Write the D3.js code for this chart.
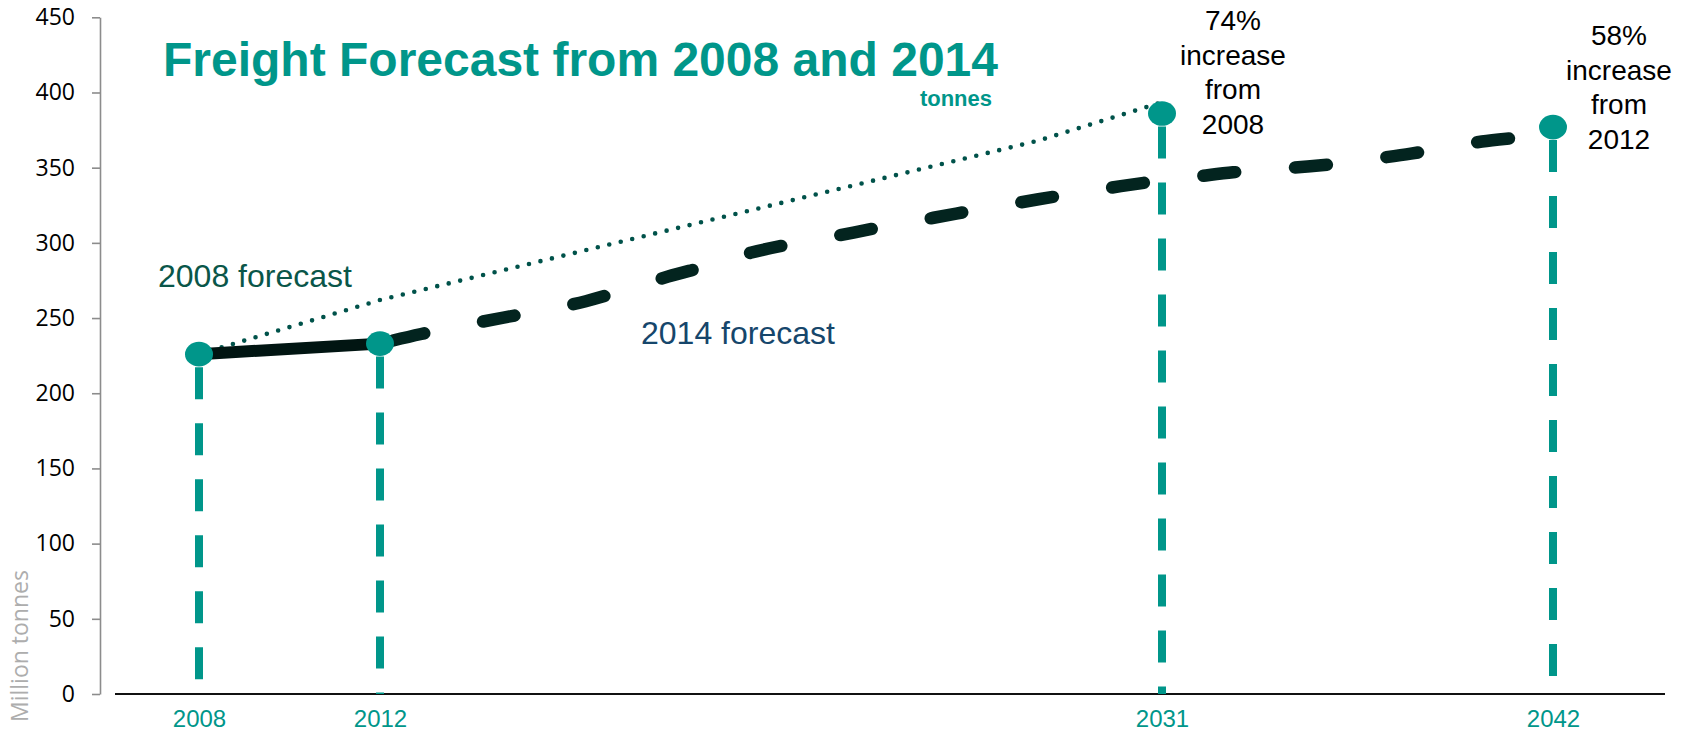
<!DOCTYPE html>
<html><head><meta charset="utf-8">
<script src="https://cdn.jsdelivr.net/npm/d3@7/dist/d3.min.js"></script>
<style>html,body{margin:0;padding:0;background:#fff;overflow:hidden}</style>
</head><body>
<svg id="chart" width="1690" height="732"></svg>
<script>
// ---- data ----
const markerYears = [2008, 2012, 2031, 2042];
const markerValues = [226, 233, 386, 377];
const xTickLabels = ["2008", "2012", "2031", "2042"];
const yTicks = [0, 50, 100, 150, 200, 250, 300, 350, 400, 450];

const actualYears = [2008, 2012];
const actualValues = [226, 233];

const forecast2008Years = [2008, 2012, 2020, 2028, 2031];
const forecast2008Values = [226, 262, 315, 368, 393.5];

const forecast2014Years = [2012, 2013, 2014, 2015, 2016, 2017, 2018, 2019, 2020, 2021,
  2022, 2023, 2024, 2025, 2026, 2027, 2028, 2029, 2030, 2031,
  2032, 2033, 2034, 2035, 2036, 2037, 2038, 2039, 2040, 2041, 2042];
const forecast2014Values = [233, 239.4, 245, 250.3, 255.4, 261.2, 269.1, 277.6, 285, 293.4,
  299.3, 304.2, 309.5, 314.4, 319.5, 324.2, 329, 333.4, 337.7, 341.5,
  344.2, 346.9, 348.8, 350.6, 352.8, 356, 359.3, 363.5, 367.4, 370, 372.5];

const titleText = "Freight Forecast from 2008 and 2014";
const unitText = "tonnes";
const yAxisTitle = "Million tonnes";
const label2008 = "2008 forecast";
const label2014 = "2014 forecast";
const note2031 = ["74%", "increase", "from", "2008"];
const note2042 = ["58%", "increase", "from", "2012"];

// ---- layout ----
const TEAL = "#00968A";
const svg = d3.select("#chart");

const x = d3.scaleLinear().domain(markerYears).range([199, 380, 1162, 1553]);
const y = d3.scaleLinear().domain([0, 450]).range([694, 17.3]);

const zip = (xs, vs) => xs.map((d, i) => ({year: d, value: vs[i]}));
const markers = zip(markerYears, markerValues);

// y axis
const yAxis = svg.append("g").attr("transform", "translate(100,0)")
  .call(d3.axisLeft(y).tickValues(yTicks).tickSize(8).tickSizeOuter(0).tickPadding(17));
yAxis.select(".domain").attr("stroke", "#8c8c8c").attr("stroke-width", 1.6);
yAxis.selectAll(".tick line").attr("stroke", "#8c8c8c").attr("stroke-width", 1.6);
yAxis.selectAll(".tick text").attr("fill", "#000")
  .style("font-family", "'Open Sans', sans-serif").style("font-size", "23px");

// y axis title
svg.append("text").attr("transform", "translate(28,722) rotate(-90)")
  .attr("text-anchor", "start").attr("fill", "#ADADAD")
  .style("font-family", "'Open Sans', sans-serif").style("font-size", "23px")
  .text(yAxisTitle);

// x axis
svg.append("line").attr("x1", 115).attr("x2", 1665).attr("y1", y(0)).attr("y2", y(0))
  .attr("stroke", "#111").attr("stroke-width", 2);
const xAxis = svg.append("g").attr("transform", `translate(0,${y(0)})`)
  .call(d3.axisBottom(x).tickValues(markerYears).tickSize(0).tickPadding(16)
    .tickFormat((d, i) => xTickLabels[i]));
xAxis.select(".domain").remove();
xAxis.selectAll(".tick text").attr("fill", TEAL)
  .style("font-family", "'Liberation Sans', Arial, sans-serif").style("font-size", "24px");

// drop lines
svg.append("g").selectAll("line").data(markers).join("line")
  .attr("x1", d => x(d.year)).attr("x2", d => x(d.year))
  .attr("y1", d => y(d.value)).attr("y2", y(0))
  .attr("stroke", TEAL).attr("stroke-width", 8)
  .attr("stroke-dasharray", "32,24").attr("stroke-dashoffset", -13);

const line = d3.line().x(d => x(d.year)).y(d => y(d.value));

// 2008 forecast (dotted)
svg.append("path").datum(zip(forecast2008Years, forecast2008Values))
  .attr("d", line.curve(d3.curveLinear)).attr("fill", "none")
  .attr("stroke", "#00524A").attr("stroke-width", 4.6)
  .attr("stroke-linecap", "round").attr("stroke-dasharray", "0,11.8");

// 2014 forecast (dashed)
svg.append("path").datum(zip(forecast2014Years, forecast2014Values))
  .attr("d", d3.line().x(d => x(d.year)).y(d => y(d.value)).curve(d3.curveMonotoneX))
  .attr("fill", "none").attr("stroke", "#03241F").attr("stroke-width", 12.5)
  .attr("stroke-linecap", "round").attr("stroke-dasharray", "32,60")
  .attr("stroke-dashoffset", -13.4);

// actual (solid)
svg.append("path").datum(zip(actualYears, actualValues))
  .attr("d", d3.line().x(d => x(d.year)).y(d => y(d.value)))
  .attr("fill", "none").attr("stroke", "#011512").attr("stroke-width", 12)
  .attr("stroke-linecap", "round");

// markers
svg.append("g").selectAll("ellipse").data(markers).join("ellipse")
  .attr("cx", d => x(d.year)).attr("cy", d => y(d.value))
  .attr("rx", 14).attr("ry", 12.3).attr("fill", TEAL);

// title
svg.append("text").attr("x", 163).attr("y", 76).attr("fill", TEAL)
  .style("font-family", "'Liberation Sans', Arial, sans-serif").style("font-weight", "bold")
  .style("font-size", "48px").text(titleText);
svg.append("text").attr("x", 992).attr("y", 106).attr("text-anchor", "end").attr("fill", TEAL)
  .style("font-family", "'Liberation Sans', Arial, sans-serif").style("font-weight", "bold")
  .style("font-size", "22px").text(unitText);

// series labels
svg.append("text").attr("x", 158).attr("y", 287).attr("fill", "#0A5649")
  .style("font-family", "'Liberation Sans', Arial, sans-serif").style("font-size", "32px")
  .text(label2008);
svg.append("text").attr("x", 641).attr("y", 344).attr("fill", "#16466B")
  .style("font-family", "'Liberation Sans', Arial, sans-serif").style("font-size", "32px")
  .text(label2014);

// notes
function note(lines, cx, y0) {
  const t = svg.append("text").attr("text-anchor", "middle").attr("fill", "#000")
    .style("font-family", "'Liberation Sans', Arial, sans-serif").style("font-size", "28px");
  t.selectAll("tspan").data(lines).join("tspan")
    .attr("x", cx).attr("y", (d, i) => y0 + i * 34.5).text(d => d);
}
note(note2031, x(2031) + 71, 30);
note(note2042, x(2042) + 66, 45);
</script>
</body></html>
